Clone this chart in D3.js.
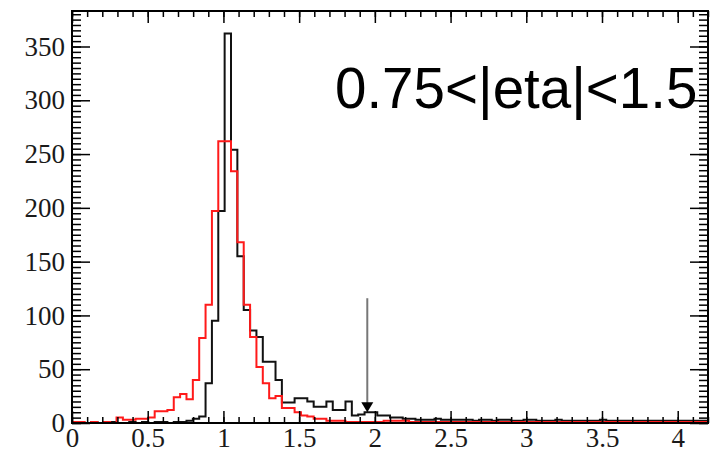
<!DOCTYPE html>
<html>
<head>
<meta charset="utf-8">
<script src="https://cdn.jsdelivr.net/npm/d3@7"></script>
<style>
  html, body { margin: 0; padding: 0; background: #fff; }
  svg { display: block; }
</style>
</head>
<body>
<svg id="chart" width="713" height="453"></svg>
<script>
// ---- data ----
const binLow = 0;          // first bin edge
const binWidth = 0.042;    // 100 bins over 0 .. 4.2
const blackCounts = [
  0,0,0,1,0,0,1,0,0,1,
  0,1,0,1,1,0,1,1,2,4,
  6,37,95,197,362,254,155,105,86,80,
  57,57,40,19,19,23,23,20,15,15,
  20,12,12,20,7,8,10,10,7,7,
  5,5,4,4,3,3,3,4,3,3,
  3,3,3,2,3,3,2,3,3,2,
  2,3,3,2,2,2,3,2,2,2,
  2,2,2,3,2,2,2,2,2,2,
  2,2,2,2,2,2,2,2,2,2
];
const redCounts = [
  1,1,0,1,0,1,0,5,3,3,
  4,4,5,11,11,12,24,27,22,40,
  79,110,197,262,262,234,168,110,80,52,
  37,23,25,14,14,10,7,6,4,4,
  2,2,2,1,1,1,1,1,1,2,
  2,2,2,1,1,1,1,1,1,1,
  1,1,1,1,1,1,1,1,1,1,
  1,1,1,1,1,1,1,1,1,1,
  1,1,1,1,1,1,1,1,1,1,
  1,1,1,1,1,1,1,1,1,1
];
const xTicks = [0, 0.5, 1, 1.5, 2, 2.5, 3, 3.5, 4];
const xTickLabels = ["0", "0.5", "1", "1.5", "2", "2.5", "3", "3.5", "4"];
const yTicks = [0, 50, 100, 150, 200, 250, 300, 350];
const yTickLabels = ["0", "50", "100", "150", "200", "250", "300", "350"];
const xDomain = [0, 4.2];
const yDomain = [0, 383];
const cutValue = [1.95];       // position of the arrow marker
const cutRange = [116, 10];     // arrow from .. to (y values)
const labelText = "0.75<|eta|<1.5";

// ---- layout ----
const svg = d3.select("#chart");
const L = 72, R = 708, T = 11, B = 423;
const x = d3.scaleLinear().domain(xDomain).range([L, R]);
const y = d3.scaleLinear().domain(yDomain).range([B, T]);

// ---- histograms ----
function stepPath(counts) {
  const pts = [];
  counts.forEach((v, i) => {
    const x0 = binLow + i * binWidth, x1 = x0 + binWidth;
    pts.push([x(x0), y(v)], [x(x1), y(v)]);
  });
  return d3.line()(pts);
}
svg.append("path").attr("d", stepPath(blackCounts))
  .attr("fill", "none").attr("stroke", "#111").attr("stroke-width", 2);
svg.append("path").attr("d", stepPath(redCounts))
  .attr("fill", "none").attr("stroke", "#ff1a1a").attr("stroke-width", 2);

// ---- arrow marker ----
const ax = x(cutValue[0]);
svg.append("line").attr("x1", ax).attr("x2", ax)
  .attr("y1", y(cutRange[0])).attr("y2", y(cutRange[1]) - 9)
  .attr("stroke", "#777").attr("stroke-width", 2);
const tipY = y(cutRange[1]);
svg.append("path")
  .attr("d", `M${ax - 6},${tipY - 10} L${ax + 6},${tipY - 10} L${ax},${tipY} Z`)
  .attr("fill", "#000");

// ---- axes ----
const fontSerif = "'Liberation Serif', 'Times New Roman', serif";
function styleAxis(g) {
  g.select(".domain").remove();
  g.selectAll(".tick line").attr("stroke", "#000").attr("stroke-width", 1.5);
  g.selectAll("text").attr("font-family", fontSerif).attr("font-size", 27).attr("fill", "#1a1a1a");
}
const xMinor = d3.range(0, 4.2001, 0.1);
const yMinor = d3.range(0, 383, 5);

// bottom
svg.append("g").attr("transform", `translate(0,${B})`)
  .call(d3.axisBottom(x).tickValues(xMinor).tickSize(-6).tickFormat(""))
  .call(styleAxis);
svg.append("g").attr("transform", `translate(0,${B})`)
  .call(d3.axisBottom(x).tickValues(xTicks).tickSize(-12).tickPadding(5)
    .tickFormat((d, i) => xTickLabels[i]))
  .call(styleAxis);
// top
svg.append("g").attr("transform", `translate(0,${T})`)
  .call(d3.axisTop(x).tickValues(xMinor).tickSize(-6).tickFormat(""))
  .call(styleAxis);
svg.append("g").attr("transform", `translate(0,${T})`)
  .call(d3.axisTop(x).tickValues(xTicks).tickSize(-12).tickFormat(""))
  .call(styleAxis);
// left
svg.append("g").attr("transform", `translate(${L},0)`)
  .call(d3.axisLeft(y).tickValues(yMinor).tickSize(-9).tickFormat(""))
  .call(styleAxis);
svg.append("g").attr("transform", `translate(${L},0)`)
  .call(d3.axisLeft(y).tickValues(yTicks).tickSize(-18).tickPadding(7)
    .tickFormat((d, i) => yTickLabels[i]))
  .call(styleAxis);
svg.selectAll("g").filter(function () { return true; });
// y labels keep 28px size
svg.selectAll("g").each(function () {});
// right
svg.append("g").attr("transform", `translate(${R},0)`)
  .call(d3.axisRight(y).tickValues(yMinor).tickSize(-9).tickFormat(""))
  .call(styleAxis);
svg.append("g").attr("transform", `translate(${R},0)`)
  .call(d3.axisRight(y).tickValues(yTicks).tickSize(-18).tickFormat(""))
  .call(styleAxis);

// frame
svg.append("rect").attr("x", L).attr("y", T).attr("width", R - L).attr("height", B - T)
  .attr("fill", "none").attr("stroke", "#000").attr("stroke-width", 2);

// label
svg.append("text").attr("x", 335).attr("y", 108)
  .attr("font-family", "'Liberation Sans', Arial, Helvetica, sans-serif")
  .attr("font-size", 56.5).attr("fill", "#000")
  .text(labelText);
</script>
</body>
</html>
